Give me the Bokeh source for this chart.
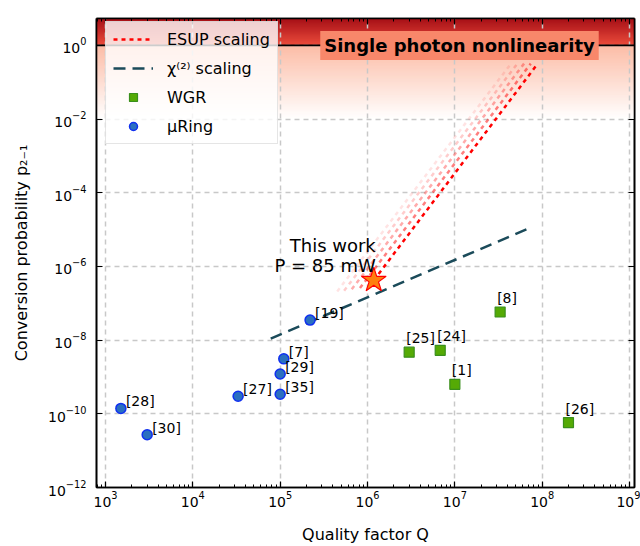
import numpy as np
from bokeh.plotting import figure
from bokeh.core.properties import value
from bokeh.models import (ColumnDataSource, LabelSet, Label, Span, Legend, LegendItem,
                          FixedTicker, LogAxis)
from bokeh.embed import file_html
from bokeh.resources import INLINE

# ---------------- data ----------------
ring_q = [1.5e3, 3.0e3, 3.3e4, 1.0e5, 1.0e5, 1.1e5, 2.2e5]
ring_p = [1.4e-10, 2.7e-11, 3.0e-10, 3.4e-10, 1.2e-9, 3.1e-9, 3.5e-8]
ring_ref = ["[28]", "[30]", "[27]", "[35]", "[29]", "[7]", "[19]"]

wgr_q = [3.0e6, 6.8e6, 1.0e7, 3.3e7, 2.0e8]
wgr_p = [4.7e-9, 5.3e-9, 6.3e-10, 5.8e-8, 5.8e-11]
wgr_ref = ["[25]", "[24]", "[1]", "[8]", "[26]"]

this_q = [1.18e6]
this_p = [4.2e-7]

chi2_q = [7.8e4, 7.8e7]
chi2_p = [1.1e-8, 1.2e-5]

esup_q_start = [1.18e6, 8.2e5, 6.6e5, 5.4e5, 4.5e5]
esup_p_start = [4.2e-7, 2.6e-7, 2.4e-7, 2.2e-7, 2.1e-7]
esup_q_end = [8.9e7, 7.4e7, 6.2e7, 5.2e7, 4.4e7]
esup_p_end = [0.32, 0.32, 0.32, 0.32, 0.32]

x_ticks = [1e3, 1e4, 1e5, 1e6, 1e7, 1e8, 1e9]
y_ticks = [1e-12, 1e-10, 1e-8, 1e-6, 1e-4, 1e-2, 1e0]

# ---------------- style ----------------
FONT = "DejaVu Sans"
esup_alpha = [1.0, 0.5, 0.33, 0.2, 0.11]
X0, X1 = 10 ** 2.897, 10 ** 9.057
Y0, Y1 = 1e-12, 10 ** 0.73

p = figure(width=640, height=546, x_axis_type="log", y_axis_type="log",
           x_range=(X0, X1), y_range=(Y0, Y1),
           output_backend="svg", toolbar_location=None,
           min_border_top=18, min_border_right=6, min_border_left=96,
           min_border_bottom=57)
p.background_fill_color = "white"
p.outline_line_color = "black"
p.outline_line_width = 1.6

# gradient band: stacked strips, each reaching the top (no seams)
edges = np.linspace(-2, np.log10(Y1), 110)
bots, cols = [], []
for a, b in zip(edges[:-1], edges[1:]):
    m = 0.5 * (a + b)
    if m < 0:
        t = (m + 2) / 2.0
        c0, c1 = np.array([255, 255, 255]), np.array([252, 188, 166])
    else:
        t = m / np.log10(Y1)
        c0, c1 = np.array([236, 76, 60]), np.array([165, 15, 22])
    c = (1 - t) * c0 + t * c1
    bots.append(10 ** a)
    cols.append("#%02x%02x%02x" % tuple(int(round(v)) for v in c))
p.quad(left=X0, right=X1, bottom=bots, top=Y1, fill_color=cols,
       line_color=None, level="image")

# axes and ticks
minor_x = [m * d for d in [1e2, 1e3, 1e4, 1e5, 1e6, 1e7, 1e8, 1e9] for m in range(2, 10)]
xt = FixedTicker(ticks=x_ticks, minor_ticks=minor_x)
yt = FixedTicker(ticks=y_ticks, minor_ticks=[])

def style_axis(ax, labels=True):
    ax.axis_line_color = "black"
    ax.axis_line_width = 1.6
    ax.major_tick_in = 6
    ax.major_tick_out = 0
    ax.minor_tick_in = 3
    ax.minor_tick_out = 0
    ax.major_tick_line_width = 1.2
    ax.minor_tick_line_width = 1.0
    ax.major_label_text_font = FONT
    ax.major_label_text_font_size = "14px" if labels else "1px"
    ax.major_label_text_color = "black"
    if not labels:
        ax.major_label_text_alpha = 0
    ax.axis_label_text_font = FONT
    ax.axis_label_text_font_size = "16px"
    ax.axis_label_text_font_style = "normal"
    ax.axis_label_text_color = "black"

p.xaxis.ticker = xt
p.yaxis.ticker = yt
p.xaxis.axis_label = "Quality factor Q"
p.yaxis.axis_label = "Conversion probability p\u2082\u208b\u2081"
style_axis(p.xaxis[0])
style_axis(p.yaxis[0])
p.xaxis.major_label_standoff = 3
p.yaxis.major_label_standoff = 10
p.xaxis.axis_label_standoff = 15
p.yaxis.axis_label_standoff = 14

top_ax = LogAxis(ticker=FixedTicker(ticks=x_ticks, minor_ticks=minor_x))
right_ax = LogAxis(ticker=FixedTicker(ticks=y_ticks, minor_ticks=[]))
for ax in (top_ax, right_ax):
    style_axis(ax, labels=False)
    ax.major_label_standoff = 0
p.add_layout(top_ax, "above")
p.add_layout(right_ax, "right")

for g, t in ((p.xgrid, FixedTicker(ticks=x_ticks)), (p.ygrid, FixedTicker(ticks=y_ticks))):
    g.ticker = t
    g.grid_line_color = "#c8c8c8"
    g.grid_line_dash = "5 4"
    g.grid_line_width = 1.5

# ESUP fan (faded copies first)
for i in range(len(esup_q_start) - 1, 0, -1):
    p.line([esup_q_start[i], esup_q_end[i]], [esup_p_start[i], esup_p_end[i]],
           line_color="red", line_width=2.5, line_dash="4 4", line_alpha=esup_alpha[i])
r_esup = p.line([esup_q_start[0], esup_q_end[0]], [esup_p_start[0], esup_p_end[0]],
                line_color="red", line_width=2.5, line_dash="4 4")

r_chi = p.line(chi2_q, chi2_p, line_color="#1b4b5a", line_width=2.5, line_dash="12 7")

wgr_src = ColumnDataSource(dict(q=wgr_q, p=wgr_p, ref=wgr_ref))
ring_src = ColumnDataSource(dict(q=ring_q, p=ring_p, ref=ring_ref))
r_wgr = p.scatter("q", "p", source=wgr_src, marker="square", size=10,
                  fill_color="#55aa05", line_color="#3a8f1c", line_width=1.2)
r_ring = p.scatter("q", "p", source=ring_src, marker="circle", size=10,
                   fill_color="#2a6fc0", line_color="#1030f0", line_width=1.5)
p.scatter(this_q, this_p, marker="star", size=26, fill_color="#ff7f0e",
          line_color="red", line_width=1.2)

p.add_layout(LabelSet(x="q", y="p", text="ref", source=wgr_src, x_offset=-3, y_offset=14,
                      text_font=value(FONT), text_font_size="14px", text_baseline="middle",
                      text_color="black"))
p.add_layout(LabelSet(x="q", y="p", text="ref", source=ring_src, x_offset=5, y_offset=7,
                      text_font=value(FONT), text_font_size="14px", text_baseline="middle",
                      text_color="black"))

p.add_layout(Label(x=this_q[0], y=this_p[0], text="P = 85 mW", x_offset=2, y_offset=15,
                   text_align="right", text_baseline="alphabetic",
                   text_font=FONT, text_font_size="18px", text_color="black"))
p.add_layout(Label(x=this_q[0], y=this_p[0], text="This work", x_offset=2, y_offset=35,
                   text_align="right", text_baseline="alphabetic",
                   text_font=FONT, text_font_size="18px", text_color="black"))

p.add_layout(Span(location=1.0, dimension="width", line_color="black", line_width=1.6))

p.add_layout(Label(x=1.13e7, y=1.0, text="Single photon nonlinearity",
                   text_align="center", text_baseline="middle",
                   text_font=FONT, text_font_size="18px", text_font_style="bold",
                   text_color="black", background_fill_color="#f8876a",
                   background_fill_alpha=1.0, padding=4))

legend = Legend(items=[
    LegendItem(label="ESUP scaling", renderers=[r_esup]),
    LegendItem(label="\u03c7\u207d\u00b2\u207e scaling", renderers=[r_chi]),
    LegendItem(label="WGR", renderers=[r_wgr]),
    LegendItem(label="\u03bcRing", renderers=[r_ring]),
], location=(9, 343))
legend.margin = 0
legend.padding = 7
legend.spacing = 9
legend.glyph_width = 40
legend.glyph_height = 20
legend.label_height = 20
legend.label_standoff = 14
legend.label_text_font = FONT
legend.label_text_font_size = "16px"
legend.label_text_color = "black"
legend.border_line_color = "#cccccc"
legend.border_line_width = 1.5
legend.background_fill_color = "white"
legend.background_fill_alpha = 0.8
p.add_layout(legend)

open("out.html", "w").write(file_html(p, INLINE))
